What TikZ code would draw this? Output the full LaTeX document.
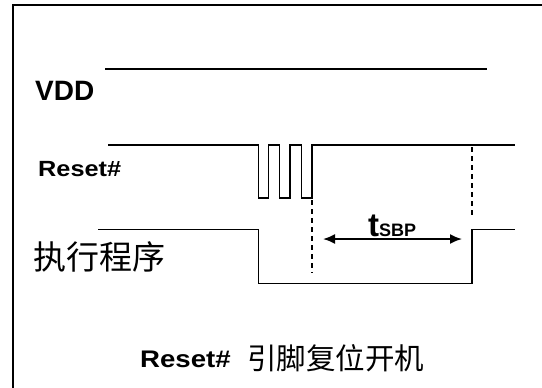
\documentclass[tikz,border=0pt]{standalone}
\usepackage{fontspec}
\setmainfont{Liberation Sans}
\newfontfamily\cjk{Noto Sans CJK SC}
\usetikzlibrary{arrows.meta}
\begin{document}
\begin{tikzpicture}[x=1bp,y=-1bp,
  wave/.style={line width=1.8bp,line join=miter},
  frame/.style={line width=2bp},
  guide/.style={line width=1.5bp,dash pattern=on 5bp off 4bp},
  lbl/.style={inner sep=0pt,font=\bfseries}]
\useasboundingbox (0,0) rectangle (542,387);
\fill[white] (0,0) rectangle (542,387);
% frame
\draw[frame] (12.5,390) -- (12.5,5) -- (545,5);
% VDD
\node[lbl,anchor=base west,font=\bfseries\fontsize{28bp}{30bp}\selectfont] (vdd) at (35,100) {VDD};
\draw[wave] (105,69) -- (487,69);
% Reset#
\node[lbl,anchor=base west,font=\bfseries\fontsize{22bp}{24bp}\selectfont] (rst) at (38,176.5) {\scalebox{1.15}[1]{Reset\#}};
\draw[wave] (108,145) -- (258.5,145) -- (258.5,198) -- (268.5,198) -- (268.5,145)
  -- (279.5,145) -- (279.5,198) -- (290,198) -- (290,145) -- (301.5,145)
  -- (301.5,198) -- (312,198) -- (312,145) -- (515,145);
% program
\node[inner sep=0pt,anchor=west,font=\cjk\fontsize{33bp}{35bp}\selectfont] (prog) at (33,257) {执行程序};
\draw[wave] (98,229.5) -- (258.5,229.5) -- (258.5,283.5) -- (472,283.5) -- (472,229.5) -- (515,229.5);
% guides
\coordinate (g1top) at (312,200);
\coordinate (g1bot) at (312,273);
\coordinate (g2top) at (472,147);
\coordinate (g2bot) at (472,218);
\draw[guide] (g1top) -- (g1bot);
\draw[guide] (g2top) -- (g2bot);
% tSBP arrow
\coordinate (al) at (323,239);
\coordinate (ar) at (462,239);
\draw[line width=1.8bp,{Latex[length=12bp,width=10bp]}-{Latex[length=12bp,width=10bp]}] (al) -- (ar);
\node[lbl,anchor=base west,font=\bfseries\fontsize{33bp}{35bp}\selectfont] (tsbp) at (368,236) {t\fontsize{18bp}{20bp}\selectfont SBP};
% caption
\node[lbl,anchor=base west,font=\bfseries\fontsize{24bp}{26bp}\selectfont] (cap) at (140,367) {\scalebox{1.15}[1]{Reset\#}};
\node[inner sep=0pt,anchor=west,font=\cjk\fontsize{29.5bp}{31bp}\selectfont] (capc) at (247,358) {引脚复位开机};
\end{tikzpicture}
\end{document}
